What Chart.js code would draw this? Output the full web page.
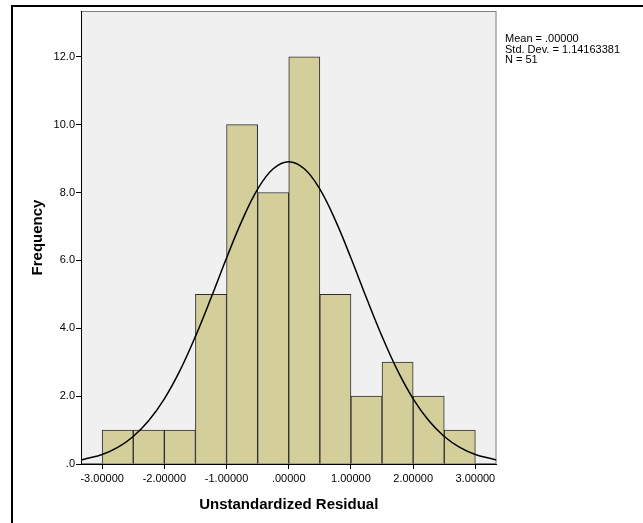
<!DOCTYPE html>
<html>
<head>
<meta charset="utf-8">
<script src="https://cdn.jsdelivr.net/npm/chart.js@4.4.1/dist/chart.umd.min.js"></script>
<style>
body { margin: 0; background: #fff; overflow: hidden; }
#wrap { position: relative; width: 643px; height: 523px; }
#frame { position: absolute; left: 11px; top: 5px; width: 700px; height: 600px; border: 2px solid #000; box-sizing: border-box; }
canvas { position: absolute; left: 0; top: 0; }
</style>
</head>
<body>
<div id="wrap">
  <div id="frame"></div>
  <canvas id="hist" width="643" height="523"></canvas>
</div>
<script>
// histogram bins (width .5) and counts
let binCenters = [-2.75, -2.25, -1.75, -1.25, -0.75, -0.25, 0.25, 0.75, 1.25, 1.75, 2.25, 2.75];
let binCounts = [1, 1, 1, 5, 10, 8, 12, 5, 2, 3, 2, 1];

// normal curve
let curveX = [-3.34, -3.25, -3, -2.75, -2.5, -2.25, -2, -1.75, -1.5, -1.25, -1, -0.75, -0.5, -0.25, 0,
              0.25, 0.5, 0.75, 1, 1.25, 1.5, 1.75, 2, 2.25, 2.5, 2.75, 3, 3.25, 3.34];
let curveY = [0.12, 0.16, 0.28, 0.49, 0.81, 1.28, 1.92, 2.75, 3.76, 4.89, 6.07, 7.18, 8.1, 8.7, 8.91,
              8.7, 8.1, 7.18, 6.07, 4.89, 3.76, 2.75, 1.92, 1.28, 0.81, 0.49, 0.28, 0.16, 0.12];

let xTicks = [-3, -2, -1, 0, 1, 2, 3];
let yTicks = [0, 2, 4, 6, 8, 10, 12];
let statLines = ["Mean = .00000", "Std. Dev. = 1.14163381", "N = 51"];

Chart.defaults.font.family = "'Liberation Sans', Arial, sans-serif";
Chart.defaults.color = "#000";

let plotBox = {
  id: "plotBox",
  beforeDraw(chart) {
    let a = chart.chartArea;
    let ctx = chart.ctx;
    ctx.save();
    ctx.fillStyle = "#f0f0f0";
    ctx.fillRect(a.left, a.top, a.right - a.left, a.bottom - a.top);
    ctx.strokeStyle = "#808080";
    ctx.lineWidth = 1;
    ctx.strokeRect(a.left + 0.5, a.top + 0.5, a.right - a.left - 1, a.bottom - a.top - 1);
    ctx.restore();
  },
  afterDraw(chart) {
    let ctx = chart.ctx;
    ctx.save();
    ctx.fillStyle = "#000";
    ctx.font = "11px 'Liberation Sans', Arial, sans-serif";
    ctx.textBaseline = "alphabetic";
    statLines.forEach(function (t, i) {
      ctx.fillText(t, 505, 42 + i * 10.5);
    });
    ctx.restore();
  }
};

new Chart(document.getElementById("hist"), {
  type: "bar",
  data: {
    datasets: [
      {
        type: "line",
        order: 0,
        data: curveX.map((x, i) => ({ x: x, y: curveY[i] })),
        borderColor: "#000",
        borderWidth: 1.5,
        pointRadius: 0,
        tension: 0.4,
        fill: false
      },
      {
        type: "bar",
        order: 1,
        data: binCenters.map((x, i) => ({ x: x, y: binCounts[i] })),
        backgroundColor: "#d3ce9a",
        borderColor: "#2e2e2e",
        borderWidth: 1,
        barPercentage: 1,
        categoryPercentage: 1
      }
    ]
  },
  options: {
    responsive: false,
    animation: false,
    layout: { padding: { left: 14, top: 11, right: 146.5, bottom: 0 } },
    plugins: { legend: { display: false }, tooltip: { enabled: false } },
    scales: {
      x: {
        type: "linear",
        offset: false,
        min: -3.34,
        max: 3.34,
        afterBuildTicks: (s) => { s.ticks = xTicks.map(v => ({ value: v })); },
        afterFit: (s) => { s.height = 59; },
        grid: { offset: false, drawOnChartArea: false, tickLength: 5, color: "#000", z: 1 },
        border: { color: "#000", width: 1, z: 1 },
        ticks: {
          padding: 3,
          maxRotation: 0,
          font: { size: 11 },
          callback: (v) => v === 0 ? ".00000" : v.toFixed(5)
        },
        title: {
          display: true,
          text: "Unstandardized Residual",
          font: { size: 15, weight: "bold", lineHeight: 1.2 },
          padding: { top: 0, bottom: 9 }
        }
      },
      y: {
        min: 0,
        max: 13.35,
        afterBuildTicks: (s) => { s.ticks = yTicks.map(v => ({ value: v })); },
        afterFit: (s) => { s.width = 67; },
        grid: { drawOnChartArea: false, tickLength: 5, color: "#000", z: 1 },
        border: { color: "#000", width: 1, z: 1 },
        ticks: {
          padding: 1,
          font: { size: 11 },
          callback: (v) => v === 0 ? ".0" : v.toFixed(1)
        },
        title: {
          display: true,
          text: "Frequency",
          font: { size: 15, weight: "bold", lineHeight: 1.2 },
          padding: { top: 15, bottom: 0 }
        }
      }
    }
  },
  plugins: [plotBox]
});
</script>
</body>
</html>
